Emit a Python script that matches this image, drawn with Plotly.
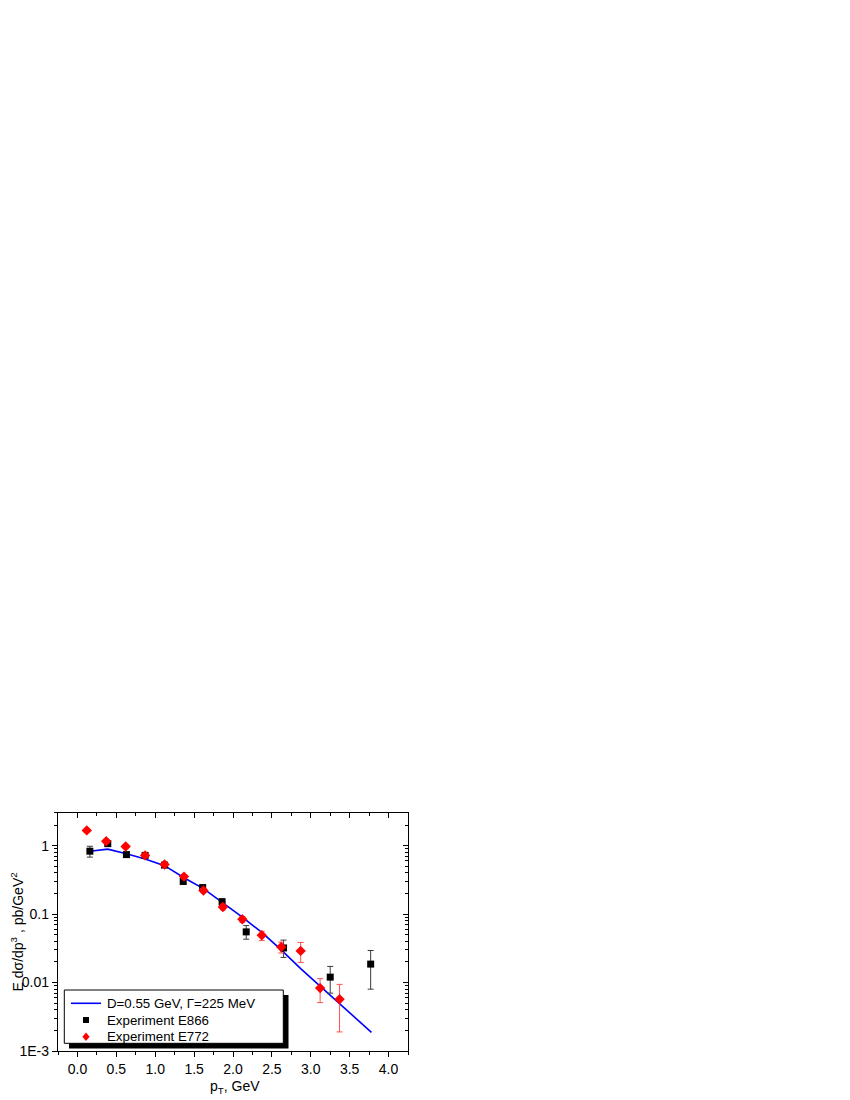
import plotly.graph_objects as go

# E866 data (black squares)
e866_x = [0.16, 0.39, 0.63, 0.87, 1.12, 1.36, 1.61, 1.86, 2.17, 2.65, 3.25, 3.77]
e866_y = [0.83, 1.07, 0.74, 0.72, 0.52, 0.30, 0.244, 0.151, 0.055, 0.032, 0.012, 0.0186]
e866_err_hi = [0.15, 0.07, 0.05, 0.04, 0.03, 0.025, 0.02, 0.017, 0.013, 0.0097, 0.0052, 0.0108]
e866_err_lo = [0.15, 0.07, 0.05, 0.04, 0.03, 0.025, 0.02, 0.017, 0.012, 0.0087, 0.005, 0.0106]

# E772 data (red diamonds)
e772_x = [0.12, 0.37, 0.62, 0.87, 1.12, 1.37, 1.62, 1.87, 2.12, 2.37, 2.62, 2.87, 3.12, 3.37]
e772_y = [1.67, 1.16, 0.97, 0.72, 0.53, 0.353, 0.221, 0.127, 0.084, 0.049, 0.033, 0.029, 0.0083, 0.0057]
e772_err_hi = [0.12, 0.07, 0.06, 0.04, 0.03, 0.025, 0.015, 0.012, 0.008, 0.007, 0.006, 0.0095, 0.0031, 0.0037]
e772_err_lo = [0.12, 0.07, 0.06, 0.04, 0.03, 0.025, 0.015, 0.012, 0.008, 0.008, 0.006, 0.0093, 0.0032, 0.0038]

# Model curve
model_x = [0.16, 0.39, 0.63, 0.87, 1.12, 1.37, 1.62, 1.87, 2.12, 2.37, 2.62, 2.87, 3.12, 3.37, 3.62, 3.78]
model_y = [0.83, 0.89, 0.76, 0.64, 0.51, 0.34, 0.236, 0.148, 0.090, 0.054, 0.030, 0.016, 0.0088, 0.0049, 0.0027, 0.00187]

series_names = ["D=0.55 GeV, \u0393=225 MeV", "Experiment E866", "Experiment E772"]
x_title = "p<sub>T</sub>, GeV"
y_title = "E d\u03c3/dp<sup>3</sup> , pb/GeV<sup>2</sup>"

x_ticks = [0.0, 0.5, 1.0, 1.5, 2.0, 2.5, 3.0, 3.5, 4.0]
x_ticklabels = ["0.0", "0.5", "1.0", "1.5", "2.0", "2.5", "3.0", "3.5", "4.0"]
y_ticks = [0.001, 0.01, 0.1, 1]
y_ticklabels = ["1E-3", "0.01", "0.1", "1"]
y_minor = [m * 10 ** e for e in range(-3, 1) for m in range(2, 10)]

FONT = "Liberation Sans, Arial, sans-serif"
BLUE, RED = "#0000ff", "#ff0000"

fig = go.Figure()
fig.add_trace(go.Scatter(x=model_x, y=model_y, mode="lines",
                         line=dict(color=BLUE, width=1.6), name=series_names[0]))
fig.add_trace(go.Scatter(x=e866_x, y=e866_y, mode="markers",
                         marker=dict(symbol="square", size=7, color="black"),
                         error_y=dict(type="data", array=e866_err_hi, arrayminus=e866_err_lo,
                                      color="#3a3a3a", thickness=1, width=3),
                         name=series_names[1]))
fig.add_trace(go.Scatter(x=e772_x, y=e772_y, mode="markers",
                         marker=dict(symbol="diamond", size=8, color=RED),
                         error_y=dict(type="data", array=e772_err_hi, arrayminus=e772_err_lo,
                                      color="#ff5050", thickness=1, width=3),
                         name=series_names[2]))
# empty trace so the mirrored top/right axes are drawn
fig.add_trace(go.Scatter(x=[None], y=[None], xaxis="x2", yaxis="y2", showlegend=False,
                         hoverinfo="skip"))

# page has an 8px body margin: figure is shifted by 8px in the screenshot
OFF = 8
L, R, T, B = 58, 408, 813, 1051          # plot area in page pixels
W, H = 850 - OFF, 1100 - OFF
pw, ph = R - L, B - T

def px(x):
    return (x - L) / pw

def py(y):
    return (B - y) / ph

shapes = []
# legend shadow and box
shapes.append(dict(type="rect", xref="paper", yref="paper",
                   x0=px(69), x1=px(288.5), y0=py(1048.5), y1=py(995),
                   fillcolor="black", line=dict(width=0), layer="above"))
shapes.append(dict(type="rect", xref="paper", yref="paper",
                   x0=px(64.3), x1=px(283.3), y0=py(1043.3), y1=py(990),
                   fillcolor="white", line=dict(width=1, color="black"), layer="above"))
rows = [1003.3, 1020.0, 1036.7]
# legend symbols
shapes.append(dict(type="line", xref="paper", yref="paper",
                   x0=px(71), x1=px(101), y0=py(rows[0]), y1=py(rows[0]),
                   line=dict(color=BLUE, width=1.6), layer="above"))
shapes.append(dict(type="rect", xref="paper", yref="paper",
                   x0=px(83), x1=px(89), y0=py(rows[1] + 3), y1=py(rows[1] - 3),
                   fillcolor="black", line=dict(width=0), layer="above"))
cx, cy = px(86), py(rows[2])
dx, dy = 3.6 / pw, 4.2 / ph
shapes.append(dict(type="path", xref="paper", yref="paper",
                   path=f"M {cx - dx},{cy} L {cx},{cy + dy} L {cx + dx},{cy} L {cx},{cy - dy} Z",
                   fillcolor=RED, line=dict(width=0), layer="above"))

annotations = [dict(text=name, xref="paper", yref="paper", x=px(105), y=py(r),
                    xanchor="left", yanchor="middle", showarrow=False,
                    font=dict(size=13.3, family=FONT, color="black"))
               for name, r in zip(series_names, rows)]
# axis titles
annotations.append(dict(text=x_title, xref="paper", yref="paper", x=px(235), y=py(1075.5),
                        xanchor="center", yanchor="top", showarrow=False,
                        font=dict(size=14, family=FONT, color="black")))
annotations.append(dict(text=y_title, xref="paper", yref="paper", x=px(17.5), y=py(932),
                        xanchor="center", yanchor="middle", showarrow=False, textangle=-90,
                        font=dict(size=14, family=FONT, color="black")))

axis_common = dict(showgrid=False, zeroline=False, showline=True, linecolor="black",
                   linewidth=1.3, tickcolor="black", ticklen=5, tickwidth=1.2,
                   automargin=False)

fig.update_layout(
    width=W, height=H,
    margin=dict(l=L - OFF, r=850 - R, t=T - OFF, b=1100 - B, pad=0),
    paper_bgcolor="white", plot_bgcolor="white",
    font=dict(family=FONT, size=14, color="black"),
    showlegend=False,
    shapes=shapes, annotations=annotations,
    xaxis=dict(range=[-0.25, 4.25], tickvals=x_ticks, ticktext=x_ticklabels,
               ticks="outside",
               minor=dict(ticks="outside", ticklen=3, tickwidth=1, tickcolor="black", dtick=0.25, tick0=0),
               tickfont=dict(size=14), **axis_common),
    yaxis=dict(type="log", range=[-3, 0.477], tickvals=y_ticks, ticktext=y_ticklabels,
               ticks="outside",
               minor=dict(ticks="outside", ticklen=3, tickwidth=1, tickcolor="black",
                          tickvals=y_minor),
               tickfont=dict(size=14), **axis_common),
    xaxis2=dict(overlaying="x", side="top", anchor="y", matches="x", range=[-0.25, 4.25],
                tickvals=x_ticks, showticklabels=False, ticks="inside",
                minor=dict(ticks="inside", ticklen=3, tickwidth=1, tickcolor="black", dtick=0.25, tick0=0),
                **axis_common),
    yaxis2=dict(overlaying="y", side="right", anchor="x", type="log", range=[-3, 0.477],
                tickvals=y_ticks, showticklabels=False, ticks="inside",
                minor=dict(ticks="inside", ticklen=3, tickwidth=1, tickcolor="black",
                           tickvals=y_minor),
                **axis_common),
)

fig.write_html("out.html")
